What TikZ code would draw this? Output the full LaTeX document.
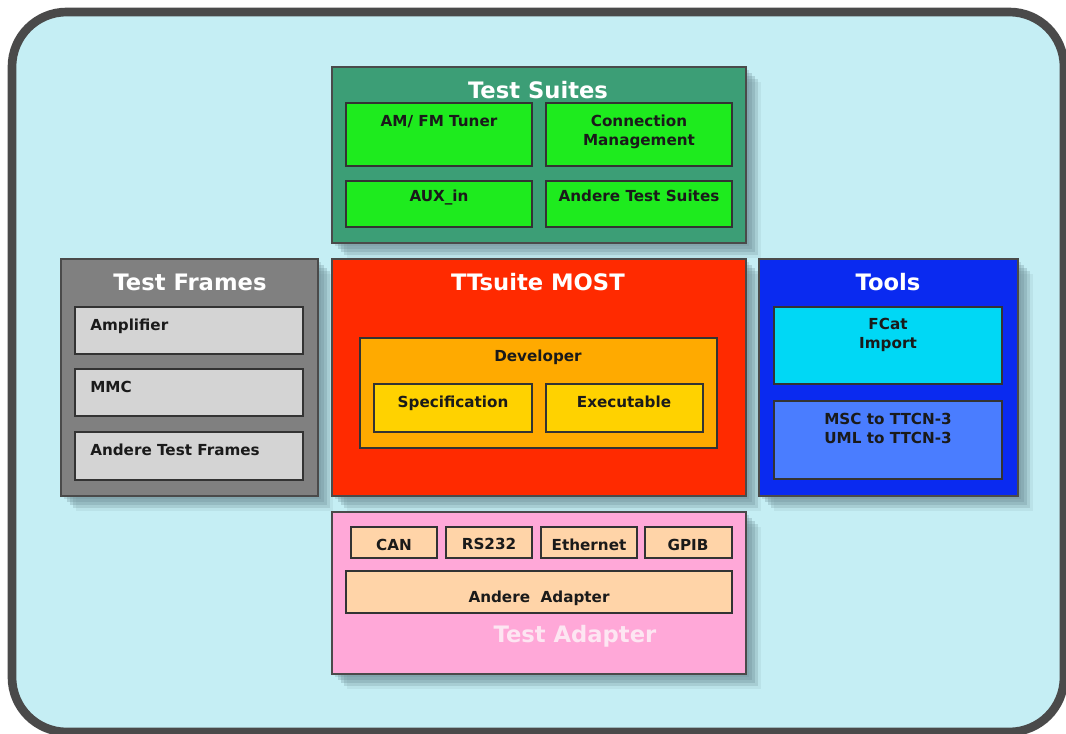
\documentclass[tikz,border=0pt]{standalone}
\usepackage{fontspec}
\setmainfont{DejaVu Sans}
\usetikzlibrary{fit}
\definecolor{bgc}{HTML}{C5EEF4}
\definecolor{framec}{HTML}{4A4A4A}
\definecolor{shadowc}{HTML}{6F8F98}
\definecolor{suitec}{HTML}{3C9E76}
\definecolor{greenc}{HTML}{1EEB1E}
\definecolor{grayc}{HTML}{808080}
\definecolor{lgrayc}{HTML}{D4D4D4}
\definecolor{redc}{HTML}{FF2A00}
\definecolor{orangec}{HTML}{FFAA00}
\definecolor{goldc}{HTML}{FFD200}
\definecolor{bluec}{HTML}{0A2AF0}
\definecolor{cyanc}{HTML}{00D8F5}
\definecolor{mblue}{HTML}{4A7DFF}
\definecolor{pinkc}{HTML}{FFA8D8}
\definecolor{peachc}{HTML}{FFD4A8}
\definecolor{pinktxt}{HTML}{FDE6F2}
\definecolor{txtc}{HTML}{1A1A1A}
\newcommand{\shd}[4]{%
  \foreach \o/\a in {3/0.25,6/0.3,9/0.3,12/0.25,15/0.12}{%
    \fill[shadowc, opacity=\a] (#1+\o,#2+\o) rectangle (#3+\o,#4+\o);}}
\begin{document}
\begin{tikzpicture}[x=0.75pt,y=-0.75pt,
  outerbox/.style={draw=framec, line width=1pt, inner sep=0pt},
  innerbox/.style={draw=black!80, line width=1.1pt, inner sep=0pt},
  ttl/.style={text=white, font=\bfseries\fontsize{17}{20}\selectfont, inner sep=0pt, anchor=base},
  lbl/.style={text=txtc, font=\bfseries\fontsize{11.4}{14.2}\selectfont, align=center, inner sep=0pt},
  lb/.style={lbl, anchor=base}]
\useasboundingbox (0,0) rectangle (1066,734);
\clip (0,0) rectangle (1066,734);
\fill[white] (0,0) rectangle (1066,734);
\draw[line width=6.5pt, draw=framec, fill=bgc, rounded corners=41pt] (12,12) rectangle (1064,732);

% shadows
\shd{332}{67}{746}{243}
\shd{61}{259}{318}{496}
\shd{332}{259}{746}{496}
\shd{759}{259}{1018}{496}
\shd{332}{512}{746}{674}

% Test Suites
\node[outerbox, fill=suitec, fit={(332,67)(746,243)}] (suites) {};
\node[ttl] (suitesT) at (538,99) {Test Suites};
\node[innerbox, fill=greenc, fit={(346,103)(532,166)}] (am) {};
\node[innerbox, fill=greenc, fit={(546,103)(732,166)}] (conn) {};
\node[innerbox, fill=greenc, fit={(346,181)(532,227)}] (aux) {};
\node[innerbox, fill=greenc, fit={(546,181)(732,227)}] (ats) {};
\node[lb] (amT) at (439,127) {AM/ FM Tuner};
\node[lbl] (connT) at (639,132) {Connection\\Management};
\node[lb] (auxT) at (439,202) {AUX\_in};
\node[lb] (atsT) at (639,202) {Andere Test Suites};

% Test Frames
\node[outerbox, fill=grayc, fit={(61,259)(318,496)}] (frames) {};
\node[ttl] (framesT) at (190,290) {Test Frames};
\node[innerbox, fill=lgrayc, fit={(75,307)(303,354)}] (amp) {};
\node[innerbox, fill=lgrayc, fit={(75,369)(303,416)}] (mmc) {};
\node[innerbox, fill=lgrayc, fit={(75,432)(303,480)}] (atf) {};
\node[lb, anchor=base west] (ampT) at (90,330) {Amplifier};
\node[lb, anchor=base west] (mmcT) at (90,392) {MMC};
\node[lb, anchor=base west] (atfT) at (90,455) {Andere Test Frames};

% TTsuite MOST
\node[outerbox, fill=redc, fit={(332,259)(746,496)}] (most) {};
\node[ttl] (mostT) at (538,290) {TTsuite MOST};
\node[innerbox, fill=orangec, fit={(360,338)(717,448)}] (dev) {};
\node[lb] (devT) at (538,361) {Developer};
\node[innerbox, fill=goldc, fit={(374,384)(532,432)}] (spec) {};
\node[innerbox, fill=goldc, fit={(546,384)(703,432)}] (exe) {};
\node[lb] (specT) at (453,407) {Specification};
\node[lb] (exeT) at (624,407) {Executable};

% Tools
\node[outerbox, fill=bluec, fit={(759,259)(1018,496)}] (tools) {};
\node[ttl] (toolsT) at (888,290) {Tools};
\node[innerbox, fill=cyanc, fit={(774,307)(1002,384)}] (fcat) {};
\node[innerbox, fill=mblue, fit={(774,401)(1002,479)}] (msc) {};
\node[lbl] (fcatT) at (888,335) {FCat\\Import};
\node[lbl] (mscT) at (888,428) {MSC to TTCN-3\\UML to TTCN-3};

% Test Adapter
\node[outerbox, fill=pinkc, fit={(332,512)(746,674)}] (adapt) {};
\node[innerbox, fill=peachc, fit={(351,527)(437,558)}] (can) {};
\node[innerbox, fill=peachc, fit={(446,527)(532,558)}] (rs) {};
\node[innerbox, fill=peachc, fit={(541,527)(637,558)}] (eth) {};
\node[innerbox, fill=peachc, fit={(645,527)(732,558)}] (gpib) {};
\node[innerbox, fill=peachc, fit={(346,571)(732,613)}] (aa) {};
\node[lb] (canT) at (394,550) {CAN};
\node[lb] (rsT) at (489,549) {RS232};
\node[lb] (ethT) at (589,550) {Ethernet};
\node[lb] (gpibT) at (688,550) {GPIB};
\node[lb] (aaT) at (539,602) {Andere\ \ Adapter};
\node[ttl, text=pinktxt] (adaptT) at (575,642) {Test Adapter};
\end{tikzpicture}
\end{document}
